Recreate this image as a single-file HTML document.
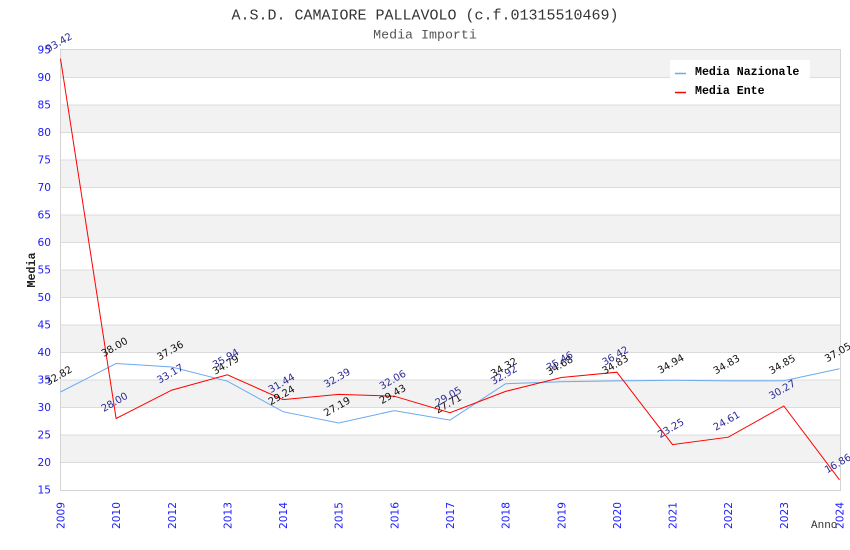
<!DOCTYPE html>
<html><head><meta charset="utf-8"><style>
html,body{margin:0;padding:0;background:#fff;}
svg{display:block;}
.tk{font-family:"DejaVu Sans","Liberation Sans",sans-serif;font-size:10.6px;fill:#1a1aff;}
.ln{font-family:"DejaVu Sans","Liberation Sans",sans-serif;font-size:10px;}
.mono{font-family:"Liberation Mono","DejaVu Sans Mono",monospace;}
</style></head><body>
<svg width="850" height="550" viewBox="0 0 850 550" xmlns="http://www.w3.org/2000/svg">
<rect x="0" y="0" width="850" height="550" fill="#fff"/>
<text class="mono" x="425" y="19.5" text-anchor="middle" font-size="15" fill="#333">A.S.D. CAMAIORE PALLAVOLO (c.f.01315510469)</text>
<text class="mono" x="425" y="38.5" text-anchor="middle" font-size="13.3" fill="#555">Media Importi</text>
<!-- bands -->
<g fill="#f2f2f2">
<rect x="60.5" y="50" width="780" height="27.5"/>
<rect x="60.5" y="105" width="780" height="27.5"/>
<rect x="60.5" y="160" width="780" height="27.5"/>
<rect x="60.5" y="215" width="780" height="27.5"/>
<rect x="60.5" y="270" width="780" height="27.5"/>
<rect x="60.5" y="325" width="780" height="27.5"/>
<rect x="60.5" y="380" width="780" height="27.5"/>
<rect x="60.5" y="435" width="780" height="27.5"/>
</g>
<g stroke="#dcdcdc" stroke-width="1">
<line x1="60.5" x2="840.5" y1="77.5" y2="77.5"/>
<line x1="60.5" x2="840.5" y1="105" y2="105"/>
<line x1="60.5" x2="840.5" y1="132.5" y2="132.5"/>
<line x1="60.5" x2="840.5" y1="160" y2="160"/>
<line x1="60.5" x2="840.5" y1="187.5" y2="187.5"/>
<line x1="60.5" x2="840.5" y1="215" y2="215"/>
<line x1="60.5" x2="840.5" y1="242.5" y2="242.5"/>
<line x1="60.5" x2="840.5" y1="270" y2="270"/>
<line x1="60.5" x2="840.5" y1="297.5" y2="297.5"/>
<line x1="60.5" x2="840.5" y1="325" y2="325"/>
<line x1="60.5" x2="840.5" y1="352.5" y2="352.5"/>
<line x1="60.5" x2="840.5" y1="380" y2="380"/>
<line x1="60.5" x2="840.5" y1="407.5" y2="407.5"/>
<line x1="60.5" x2="840.5" y1="435" y2="435"/>
<line x1="60.5" x2="840.5" y1="462.5" y2="462.5"/>
</g>
<rect x="60.5" y="49.5" width="780" height="441" fill="none" stroke="#d4d4d4" stroke-width="1"/>
<!-- y ticks -->
<g class="tk" text-anchor="end">
<text x="51" y="53.5">95</text>
<text x="51" y="81">90</text>
<text x="51" y="108.5">85</text>
<text x="51" y="136">80</text>
<text x="51" y="163.5">75</text>
<text x="51" y="191">70</text>
<text x="51" y="218.5">65</text>
<text x="51" y="246">60</text>
<text x="51" y="273.5">55</text>
<text x="51" y="301">50</text>
<text x="51" y="328.5">45</text>
<text x="51" y="356">40</text>
<text x="51" y="383.5">35</text>
<text x="51" y="411">30</text>
<text x="51" y="438.5">25</text>
<text x="51" y="466">20</text>
<text x="51" y="493.5">15</text>
</g>
<!-- x ticks -->
<g class="tk" text-anchor="end">
<text transform="translate(64.5,502) rotate(-90)">2009</text>
<text transform="translate(120.1,502) rotate(-90)">2010</text>
<text transform="translate(175.8,502) rotate(-90)">2012</text>
<text transform="translate(231.4,502) rotate(-90)">2013</text>
<text transform="translate(287.1,502) rotate(-90)">2014</text>
<text transform="translate(342.7,502) rotate(-90)">2015</text>
<text transform="translate(398.3,502) rotate(-90)">2016</text>
<text transform="translate(454,502) rotate(-90)">2017</text>
<text transform="translate(509.6,502) rotate(-90)">2018</text>
<text transform="translate(565.3,502) rotate(-90)">2019</text>
<text transform="translate(620.9,502) rotate(-90)">2020</text>
<text transform="translate(676.5,502) rotate(-90)">2021</text>
<text transform="translate(732.2,502) rotate(-90)">2022</text>
<text transform="translate(787.8,502) rotate(-90)">2023</text>
<text transform="translate(843.5,502) rotate(-90)">2024</text>
</g>
<text class="mono" transform="translate(35,270) rotate(-90)" text-anchor="middle" font-size="11.7" font-weight="bold" fill="#222">Media</text>
<text class="mono" x="811" y="528" font-size="11" fill="#333">Anno</text>
<!-- series -->
<polyline fill="none" stroke="#6aaaf0" stroke-width="1" points="60.5,392 116.1,363.5 171.8,367 227.4,381.2 283.1,411.7 338.7,423 394.3,410.6 450,420.1 505.6,383.7 561.3,381.8 616.9,380.9 672.5,380.3 728.2,380.9 783.8,380.8 839.5,368.7"/>
<polyline fill="none" stroke="#ff0000" stroke-width="1" points="60.5,58.7 116.1,418.5 171.8,390.1 227.4,374.8 283.1,399.6 338.7,394.4 394.3,396.2 450,412.7 505.6,391.4 561.3,377.5 616.9,372.2 672.5,444.6 728.2,437.2 783.8,406 839.5,479.8"/>
<!-- labels nazionale -->
<g class="ln" fill="#111" text-anchor="middle">
<text transform="translate(60.5,378.5) rotate(-30)">32.82</text>
<text transform="translate(116.1,350) rotate(-30)">38.00</text>
<text transform="translate(171.8,353.5) rotate(-30)">37.36</text>
<text transform="translate(227.4,367.7) rotate(-30)">34.79</text>
<text transform="translate(283.1,398.2) rotate(-30)">29.24</text>
<text transform="translate(338.7,409.5) rotate(-30)">27.19</text>
<text transform="translate(394.3,397.1) rotate(-30)">29.43</text>
<text transform="translate(450,406.6) rotate(-30)">27.71</text>
<text transform="translate(505.6,370.2) rotate(-30)">34.32</text>
<text transform="translate(561.3,368.3) rotate(-30)">34.68</text>
<text transform="translate(616.9,367.4) rotate(-30)">34.83</text>
<text transform="translate(672.5,366.8) rotate(-30)">34.94</text>
<text transform="translate(728.2,367.4) rotate(-30)">34.83</text>
<text transform="translate(783.8,367.3) rotate(-30)">34.85</text>
<text transform="translate(839.5,355.2) rotate(-30)">37.05</text>
</g>
<!-- labels ente -->
<g class="ln" fill="#2b2b96" text-anchor="middle">
<text transform="translate(60.5,45.5) rotate(-30)">93.42</text>
<text transform="translate(116.1,405) rotate(-30)">28.00</text>
<text transform="translate(171.8,376.6) rotate(-30)">33.17</text>
<text transform="translate(227.4,361.3) rotate(-30)">35.94</text>
<text transform="translate(283.1,386.1) rotate(-30)">31.44</text>
<text transform="translate(338.7,380.9) rotate(-30)">32.39</text>
<text transform="translate(394.3,382.7) rotate(-30)">32.06</text>
<text transform="translate(450,399.2) rotate(-30)">29.05</text>
<text transform="translate(505.6,377.9) rotate(-30)">32.92</text>
<text transform="translate(561.3,364) rotate(-30)">35.46</text>
<text transform="translate(616.9,358.7) rotate(-30)">36.42</text>
<text transform="translate(672.5,431.1) rotate(-30)">23.25</text>
<text transform="translate(728.2,423.7) rotate(-30)">24.61</text>
<text transform="translate(783.8,392.5) rotate(-30)">30.27</text>
<text transform="translate(839.5,466.3) rotate(-30)">16.86</text>
</g>
<!-- legend -->
<rect x="670" y="60" width="140" height="40" fill="#fff"/>
<line x1="675" x2="686" y1="73.5" y2="73.5" stroke="#6aaaf0" stroke-width="1.5"/>
<line x1="675" x2="686" y1="92.5" y2="92.5" stroke="#ff0000" stroke-width="1.5"/>
<text class="mono" x="695" y="75" font-size="11.6" font-weight="bold" fill="#000">Media Nazionale</text>
<text class="mono" x="695" y="94" font-size="11.6" font-weight="bold" fill="#000">Media Ente</text>
</svg>
</body></html>
